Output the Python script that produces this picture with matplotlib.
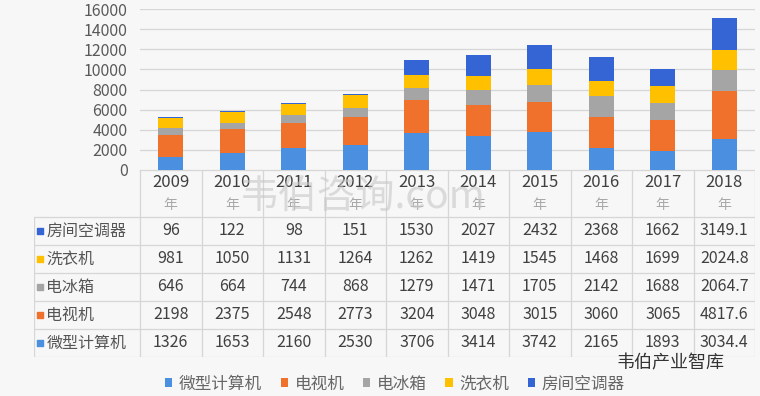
import numpy as np
import matplotlib
matplotlib.use('Agg')
import matplotlib.pyplot as plt

plt.rcParams['font.family'] = ['Noto Sans CJK SC', 'DejaVu Sans']

# ----------------------------------------------
# data (stack order bottom -> top)
# ----------------------------------------------
years = ['2009', '2010', '2011', '2012', '2013', '2014', '2015', '2016', '2017', '2018']
series_names = ['微型计算机', '电视机', '电冰箱', '洗衣机', '房间空调器']
computer = [1326, 1653, 2160, 2530, 3706, 3414, 3742, 2165, 1893, 3034.4]
tv = [2198, 2375, 2548, 2773, 3204, 3048, 3015, 3060, 3065, 4817.6]
fridge = [646, 664, 744, 868, 1279, 1471, 1705, 2142, 1688, 2064.7]
washer = [981, 1050, 1131, 1264, 1262, 1419, 1545, 1468, 1699, 2024.8]
aircon = [96, 122, 98, 151, 1530, 2027, 2432, 2368, 1662, 3149.1]
y_ticks = [0, 2000, 4000, 6000, 8000, 10000, 12000, 14000, 16000]

series_values = [computer, tv, fridge, washer, aircon]
colors = ['#4a8fe0', '#f0712c', '#a5a5a5', '#ffc000', '#3564d4']

W, H = 760, 396
BG = '#f7f7f7'
GRID = '#d6d6d6'

fig = plt.figure(figsize=(W / 100, H / 100), dpi=100, facecolor=BG)


def px_box(x0, y0, x1, y1):
    # pixel box (top-left origin) -> figure fraction rect
    return [x0 / W, 1 - y1 / H, (x1 - x0) / W, (y1 - y0) / H]


# plot area
X0, X1 = 140, 755
Y_TOP, Y_BASE = 9, 170
ax = fig.add_axes(px_box(X0, Y_TOP, X1, Y_BASE), facecolor=BG)
x = np.arange(len(years))
bottom = np.zeros(len(years))
handles = []
for name, vals, c in zip(series_names, series_values, colors):
    vals = np.array(vals, dtype=float)
    b = ax.bar(x, vals, bottom=bottom, width=0.41, color=c, label=name, zorder=3)
    handles.append(b)
    bottom += vals

ax.set_xlim(-0.5, len(years) - 0.5)
ax.set_ylim(0, 16000)
ax.set_yticks(y_ticks)
ax.set_yticklabels([str(t) for t in y_ticks], fontsize=11.5, color='#595959')
ax.tick_params(axis='y', length=0, pad=9)
ax.set_xticks([])
ax.grid(axis='y', color=GRID, lw=0.9, zorder=0)
for s in ax.spines.values():
    s.set_visible(False)

# ----------------------------------------------
# data table underneath
# ----------------------------------------------
T_LEFT, T_TOP, T_HEAD, T_BOT = 34, 170, 217, 357
col_w = (X1 - X0) / len(years)
label_w = (X0 - T_LEFT) / col_w
tax = fig.add_axes(px_box(T_LEFT, T_TOP, X1, T_BOT))
tax.set_xlim(-0.5 - label_w, len(years) - 0.5)
tax.set_ylim(T_BOT, T_TOP)
tax.axis('off')

row_h = (T_BOT - T_HEAD) / len(series_names)
row_edges = [T_HEAD + i * row_h for i in range(len(series_names) + 1)]
lx = -0.5 - label_w

# grid lines
tax.plot([-0.5, len(years) - 0.5], [T_TOP, T_TOP], color=GRID, lw=0.9)
for yy in row_edges:
    tax.plot([lx, len(years) - 0.5], [yy, yy], color=GRID, lw=0.9)
tax.plot([lx, lx], [T_HEAD, T_BOT], color=GRID, lw=0.9)
for k in range(len(years) + 1):
    xx = k - 0.5
    tax.plot([xx, xx], [T_TOP, T_BOT], color=GRID, lw=0.9)

# header (years)
for i, yr in enumerate(years):
    tax.text(i, 183, yr, ha='center', va='center', fontsize=12, color='#404040')
    tax.text(i, 205, '年', ha='center', va='center', fontsize=10, color='#a8a8a8')

# rows: top row is the top of the stack
for r, idx in enumerate(reversed(range(len(series_names)))):
    yc = row_edges[r] + row_h / 2
    tax.scatter([lx + 0.1], [yc], marker='s', s=16, color=colors[idx], clip_on=False)
    tax.text(lx + 0.2, yc, series_names[idx], ha='left', va='center',
             fontsize=11.5, color='#555555')
    for i, v in enumerate(series_values[idx]):
        tax.text(i, yc, f'{v:g}', ha='center', va='center', fontsize=11.5, color='#404040')

# legend
fig.legend(handles=handles, labels=series_names, loc='center', ncol=5,
           bbox_to_anchor=(395 / W, 1 - 384 / H), frameon=False,
           fontsize=12, handlelength=0.45, handleheight=0.45, handletextpad=0.4,
           columnspacing=1.1, labelcolor='#666666')

# watermarks
fig.text(240 / W, 1 - 198 / H, '韦伯咨询.com', fontsize=28, color='#c8c8c8',
         alpha=0.6, va='center', ha='left')
fig.text(617 / W, 1 - 363 / H, '韦伯产业智库', fontsize=13, color='#333333',
         va='center', ha='left')

fig.savefig('out.png', dpi=100, facecolor=BG)
plt.close(fig)
